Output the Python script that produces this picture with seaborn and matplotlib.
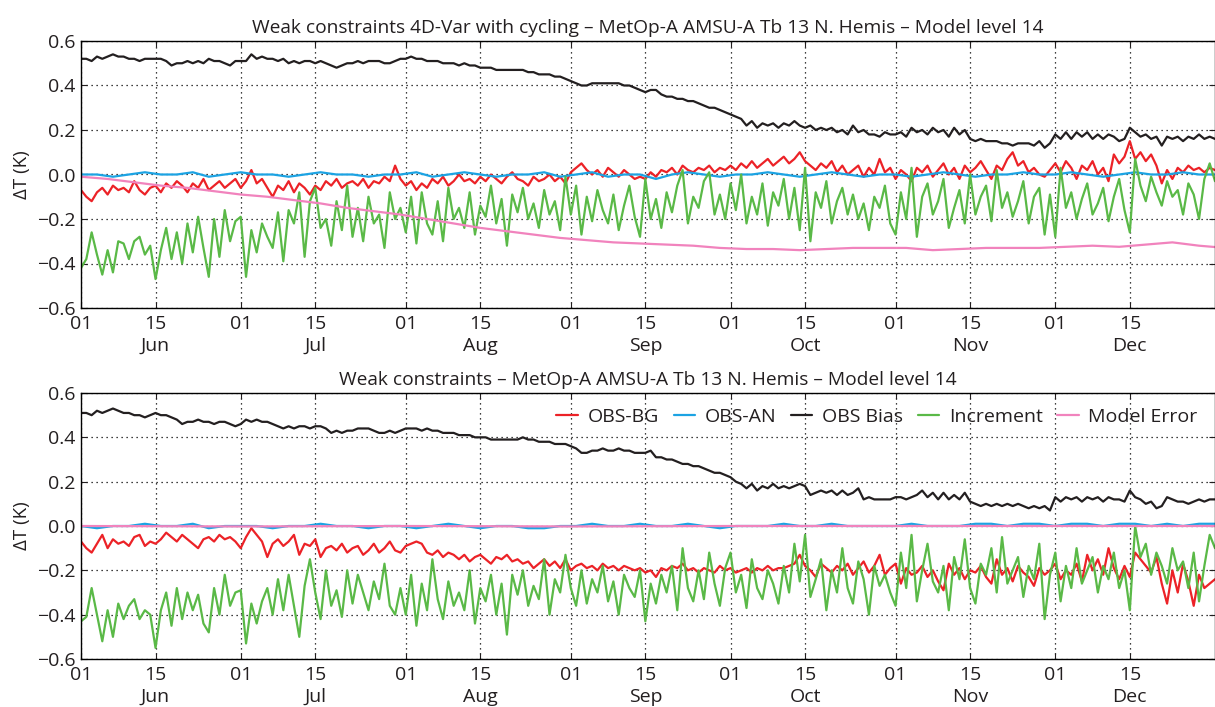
import numpy as np
import pandas as pd
import matplotlib
matplotlib.use("Agg")
import matplotlib.pyplot as plt
import matplotlib.dates as mdates
import seaborn as sns

# ---------------- data ----------------
START = "2009-06-01"
days = pd.date_range(START, periods=214, freq="D")        # daily, Jun 1 .. Dec 31
days3 = pd.date_range(START, periods=72, freq="3D")       # every 3 days
days5 = pd.date_range(START, periods=44, freq="5D")       # every 5 days
months = pd.date_range(START, periods=8, freq="MS")       # monthly

# ---- top panel: weak constraints 4D-Var with cycling ----
bias_top = [
    0.52,0.52,0.51,0.53,0.52,0.53,0.54,0.53,0.53,0.52,0.52,0.51,0.52,0.52,0.52,0.52,0.51,0.49,0.50,0.50,0.51,0.50,0.51,0.50,0.52,0.51,0.51,0.50,0.49,0.51,
    0.51,0.51,0.54,0.52,0.53,0.52,0.52,0.51,0.52,0.50,0.51,0.50,0.51,0.51,0.50,0.51,0.50,0.49,0.48,0.49,0.50,0.50,0.51,0.50,0.51,0.51,0.51,0.50,0.50,0.51,0.52,
    0.52,0.53,0.52,0.52,0.51,0.51,0.51,0.50,0.50,0.50,0.49,0.50,0.49,0.49,0.48,0.48,0.48,0.47,0.47,0.47,0.47,0.47,0.47,0.46,0.46,0.45,0.45,0.45,0.44,0.44,0.43,
    0.42,0.41,0.40,0.40,0.41,0.41,0.41,0.41,0.41,0.41,0.40,0.40,0.39,0.38,0.37,0.38,0.38,0.36,0.35,0.35,0.34,0.34,0.33,0.33,0.32,0.31,0.30,0.30,0.29,0.28,
    0.27,0.26,0.25,0.22,0.24,0.21,0.23,0.22,0.23,0.21,0.23,0.22,0.24,0.22,0.21,0.22,0.20,0.21,0.20,0.21,0.19,0.20,0.18,0.22,0.19,0.20,0.18,0.18,0.17,0.19,0.18,
    0.18,0.19,0.17,0.21,0.19,0.20,0.18,0.21,0.19,0.20,0.17,0.21,0.18,0.20,0.16,0.15,0.16,0.15,0.15,0.15,0.14,0.14,0.13,0.14,0.14,0.14,0.13,0.15,0.12,0.14,
    0.18,0.16,0.19,0.16,0.19,0.17,0.19,0.16,0.18,0.16,0.18,0.17,0.15,0.16,0.21,0.19,0.17,0.18,0.16,0.17,0.13,0.17,0.16,0.17,0.15,0.17,0.16,0.18,0.16,0.17,0.16,
]
obs_bg_top = [
    -0.07,-0.10,-0.12,-0.08,-0.06,-0.09,-0.05,-0.07,-0.06,-0.08,-0.03,-0.07,-0.09,-0.06,-0.05,-0.08,-0.04,-0.06,-0.03,-0.05,-0.08,-0.04,-0.06,-0.02,-0.07,-0.05,-0.03,-0.06,-0.04,-0.02,
    -0.06,-0.03,0.02,-0.04,-0.02,-0.06,-0.10,-0.05,-0.07,-0.03,-0.08,-0.04,-0.06,-0.09,-0.05,-0.07,-0.03,-0.05,-0.02,-0.06,-0.04,-0.03,-0.05,-0.02,-0.06,-0.03,-0.04,-0.01,-0.03,0.04,-0.02,
    -0.05,-0.03,-0.07,-0.04,-0.06,-0.02,-0.04,-0.01,-0.05,-0.03,0.00,-0.03,-0.02,-0.04,-0.01,-0.03,0.00,-0.02,-0.04,-0.01,0.01,-0.02,-0.03,-0.05,-0.01,-0.03,-0.02,0.00,-0.03,-0.01,-0.04,
    0.01,0.03,0.05,0.02,0.00,0.02,-0.01,0.03,0.01,-0.01,0.02,0.00,-0.02,-0.01,-0.02,0.01,-0.01,0.02,0.01,0.03,0.00,0.04,0.02,0.01,0.03,0.02,0.04,0.01,0.03,0.02,
    0.04,0.02,0.05,0.03,0.06,0.03,0.05,0.07,0.04,0.06,0.08,0.05,0.07,0.10,0.06,0.04,0.02,0.05,0.03,0.06,0.01,0.04,0.00,0.02,0.04,-0.01,0.03,0.00,0.07,0.01,0.03,
    -0.02,0.02,0.00,-0.03,0.03,0.01,0.04,-0.01,0.02,0.05,0.00,0.03,-0.02,0.04,0.01,0.03,0.06,0.02,-0.02,0.04,0.02,0.07,0.10,0.04,0.06,0.01,0.03,0.00,-0.01,0.02,
    0.05,0.01,0.06,0.03,-0.02,0.04,0.02,0.06,0.00,0.03,-0.03,0.09,0.05,0.08,0.15,0.07,0.10,0.06,0.09,0.04,-0.04,0.02,-0.02,0.03,0.01,0.04,0.02,0.03,0.01,0.03,0.02,
]
incr_top = [
    -0.42,-0.38,-0.26,-0.36,-0.45,-0.34,-0.44,-0.30,-0.31,-0.38,-0.30,-0.28,-0.36,-0.32,-0.47,-0.34,-0.24,-0.38,-0.26,-0.40,-0.22,-0.35,-0.19,-0.33,-0.46,-0.20,-0.37,-0.16,-0.30,-0.21,
    -0.19,-0.46,-0.25,-0.35,-0.22,-0.28,-0.33,-0.17,-0.39,-0.16,-0.22,-0.08,-0.37,-0.12,-0.06,-0.24,-0.20,-0.32,-0.12,-0.25,-0.05,-0.28,-0.15,-0.30,-0.10,-0.22,-0.18,-0.33,-0.08,-0.20,-0.15,
    -0.26,-0.10,-0.31,-0.08,-0.22,-0.27,-0.12,-0.30,-0.06,-0.20,-0.15,-0.24,-0.08,-0.27,-0.14,-0.19,-0.05,-0.22,-0.11,-0.32,-0.09,-0.17,-0.06,-0.20,-0.13,-0.24,-0.07,-0.18,-0.12,-0.25,-0.01,
    -0.18,-0.05,-0.27,-0.10,-0.21,-0.07,-0.16,-0.22,-0.09,-0.25,-0.14,-0.05,-0.19,-0.28,-0.02,-0.20,-0.11,-0.24,-0.08,-0.17,-0.05,0.02,-0.22,-0.10,-0.15,-0.03,0.01,-0.18,-0.09,-0.20,
    -0.04,-0.16,0.00,-0.22,-0.10,-0.18,-0.04,-0.23,-0.08,-0.14,-0.02,-0.20,-0.06,-0.25,0.03,-0.30,-0.08,-0.15,-0.03,-0.22,-0.12,-0.06,-0.18,-0.09,-0.20,-0.13,-0.25,-0.10,-0.15,-0.05,-0.22,
    -0.27,-0.08,-0.20,0.03,-0.28,-0.10,-0.04,-0.18,-0.12,-0.02,-0.24,-0.15,-0.07,-0.22,0.00,-0.18,-0.10,-0.05,-0.21,0.02,-0.15,-0.08,-0.19,-0.12,-0.03,-0.22,-0.10,-0.06,-0.27,-0.09,
    -0.28,0.03,-0.15,-0.08,-0.20,-0.11,-0.04,-0.18,-0.13,-0.06,-0.21,-0.10,-0.02,-0.16,-0.26,0.07,-0.05,-0.12,-0.01,-0.08,-0.14,-0.03,-0.10,-0.07,-0.18,-0.04,-0.09,-0.20,-0.02,0.05,-0.03,
]
obs_an_top = [
    0.00,0.00,-0.01,0.00,0.01,0.00,0.00,0.01,-0.01,0.00,0.01,0.00,0.00,-0.01,0.00,0.01,0.00,0.00,-0.01,0.00,0.00,0.01,-0.01,0.00,
    0.01,0.00,-0.01,0.00,0.00,0.01,-0.01,0.00,0.01,-0.01,0.00,0.00,-0.02,0.00,0.01,0.00,-0.01,0.00,0.00,0.01,0.00,-0.01,0.00,0.01,
    0.00,-0.01,0.00,0.00,-0.01,0.00,0.01,0.00,-0.01,0.00,0.00,0.01,0.00,0.00,0.01,0.00,-0.01,0.00,0.01,0.00,0.00,0.01,0.00,0.00,
]
model_err_top = [
    -0.010,-0.020,-0.035,-0.050,-0.060,-0.075,-0.090,-0.100,-0.115,-0.130,-0.150,-0.165,-0.180,-0.200,-0.220,
    -0.240,-0.255,-0.270,-0.285,-0.295,-0.305,-0.310,-0.315,-0.320,-0.330,-0.335,-0.335,-0.340,-0.335,-0.330,
    -0.330,-0.330,-0.340,-0.335,-0.330,-0.330,-0.330,-0.325,-0.320,-0.325,-0.315,-0.305,-0.320,-0.330,
]

# ---- bottom panel: weak constraints ----
bias_bot = [
    0.51,0.51,0.50,0.52,0.51,0.52,0.53,0.52,0.51,0.51,0.50,0.50,0.49,0.50,0.51,0.50,0.50,0.49,0.48,0.46,0.47,0.47,0.48,0.47,0.47,0.46,0.47,0.47,0.46,0.45,
    0.46,0.48,0.47,0.48,0.47,0.47,0.46,0.45,0.44,0.45,0.44,0.45,0.45,0.44,0.45,0.45,0.44,0.42,0.43,0.42,0.43,0.43,0.44,0.44,0.44,0.43,0.42,0.42,0.43,0.42,0.43,
    0.44,0.44,0.44,0.43,0.44,0.43,0.43,0.42,0.42,0.42,0.41,0.41,0.41,0.40,0.40,0.40,0.39,0.39,0.39,0.39,0.39,0.39,0.40,0.39,0.39,0.38,0.38,0.38,0.37,0.37,0.37,
    0.36,0.35,0.33,0.33,0.34,0.34,0.35,0.34,0.34,0.35,0.34,0.34,0.33,0.33,0.33,0.34,0.31,0.31,0.30,0.30,0.29,0.28,0.28,0.27,0.27,0.26,0.25,0.24,0.24,0.23,
    0.22,0.20,0.19,0.17,0.19,0.16,0.18,0.17,0.19,0.17,0.18,0.17,0.18,0.19,0.18,0.14,0.15,0.16,0.15,0.16,0.14,0.16,0.14,0.15,0.17,0.12,0.13,0.12,0.12,0.12,0.12,
    0.13,0.13,0.12,0.13,0.14,0.16,0.13,0.15,0.12,0.15,0.12,0.14,0.12,0.15,0.11,0.10,0.09,0.10,0.09,0.10,0.09,0.10,0.09,0.10,0.09,0.08,0.09,0.08,0.09,0.07,
    0.13,0.11,0.13,0.12,0.13,0.11,0.13,0.12,0.13,0.11,0.13,0.12,0.12,0.11,0.16,0.13,0.12,0.10,0.11,0.08,0.09,0.13,0.12,0.11,0.11,0.10,0.11,0.12,0.11,0.12,0.12,
]
obs_bg_bot = [
    -0.07,-0.10,-0.12,-0.08,-0.04,-0.10,-0.06,-0.08,-0.07,-0.09,-0.05,-0.04,-0.09,-0.07,-0.08,-0.06,-0.03,-0.05,-0.07,-0.04,-0.06,-0.08,-0.10,-0.06,-0.05,-0.07,-0.04,-0.06,-0.05,-0.07,
    -0.10,-0.05,-0.01,-0.04,-0.07,-0.14,-0.08,-0.06,-0.09,-0.07,-0.04,-0.13,-0.08,-0.09,-0.06,-0.14,-0.10,-0.09,-0.11,-0.08,-0.12,-0.10,-0.09,-0.13,-0.11,-0.08,-0.12,-0.10,-0.07,-0.11,-0.12,
    -0.09,-0.08,-0.07,-0.08,-0.12,-0.13,-0.11,-0.14,-0.12,-0.13,-0.15,-0.13,-0.16,-0.14,-0.13,-0.15,-0.17,-0.14,-0.15,-0.13,-0.16,-0.15,-0.17,-0.16,-0.19,-0.17,-0.15,-0.18,-0.16,-0.19,-0.15,
    -0.20,-0.18,-0.17,-0.19,-0.18,-0.20,-0.17,-0.19,-0.18,-0.20,-0.18,-0.19,-0.20,-0.19,-0.21,-0.20,-0.23,-0.19,-0.20,-0.18,-0.19,-0.17,-0.20,-0.19,-0.21,-0.19,-0.20,-0.21,-0.18,-0.20,
    -0.19,-0.21,-0.20,-0.19,-0.21,-0.19,-0.20,-0.18,-0.20,-0.19,-0.19,-0.18,-0.17,-0.13,-0.18,-0.20,-0.23,-0.17,-0.19,-0.21,-0.18,-0.20,-0.17,-0.22,-0.19,-0.16,-0.21,-0.18,-0.13,-0.22,-0.19,
    -0.17,-0.26,-0.19,-0.22,-0.21,-0.18,-0.23,-0.20,-0.25,-0.29,-0.17,-0.22,-0.19,-0.24,-0.20,-0.21,-0.18,-0.23,-0.26,-0.15,-0.22,-0.19,-0.25,-0.18,-0.21,-0.23,-0.27,-0.19,-0.22,-0.20,
    -0.17,-0.24,-0.20,-0.22,-0.17,-0.25,-0.13,-0.20,-0.15,-0.22,-0.10,-0.19,-0.24,-0.18,-0.23,-0.12,-0.15,-0.18,-0.21,-0.14,-0.26,-0.35,-0.20,-0.30,-0.17,-0.25,-0.36,-0.22,-0.28,-0.26,-0.24,
]
incr_bot = [
    -0.43,-0.41,-0.28,-0.40,-0.52,-0.38,-0.50,-0.35,-0.42,-0.36,-0.33,-0.42,-0.38,-0.40,-0.55,-0.38,-0.30,-0.45,-0.28,-0.42,-0.30,-0.38,-0.31,-0.44,-0.48,-0.28,-0.40,-0.22,-0.36,-0.30,
    -0.29,-0.53,-0.35,-0.44,-0.34,-0.28,-0.40,-0.24,-0.38,-0.22,-0.36,-0.50,-0.27,-0.15,-0.30,-0.42,-0.20,-0.36,-0.29,-0.41,-0.20,-0.35,-0.22,-0.30,-0.38,-0.25,-0.33,-0.17,-0.36,-0.40,-0.28,
    -0.40,-0.22,-0.45,-0.26,-0.38,-0.15,-0.33,-0.42,-0.25,-0.36,-0.30,-0.38,-0.20,-0.44,-0.28,-0.34,-0.22,-0.40,-0.26,-0.49,-0.22,-0.31,-0.20,-0.36,-0.27,-0.33,-0.15,-0.40,-0.24,-0.30,-0.13,
    -0.28,-0.36,-0.20,-0.35,-0.24,-0.30,-0.18,-0.34,-0.25,-0.40,-0.22,-0.28,-0.32,-0.20,-0.43,-0.26,-0.35,-0.22,-0.30,-0.18,-0.38,-0.10,-0.28,-0.34,-0.20,-0.33,-0.12,-0.26,-0.36,-0.19,
    -0.12,-0.30,-0.22,-0.37,-0.15,-0.28,-0.33,-0.20,-0.26,-0.35,-0.18,-0.30,-0.08,-0.25,-0.04,-0.32,-0.24,-0.15,-0.38,-0.20,-0.30,-0.10,-0.28,-0.35,-0.16,-0.24,-0.40,-0.18,-0.27,-0.22,-0.30,
    -0.36,-0.12,-0.28,-0.04,-0.34,-0.20,-0.08,-0.25,-0.30,-0.18,-0.38,-0.14,-0.24,-0.06,-0.28,-0.35,-0.17,-0.22,-0.10,-0.30,-0.05,-0.26,-0.20,-0.14,-0.32,-0.18,-0.24,-0.08,-0.42,-0.22,
    -0.12,-0.34,-0.18,-0.28,-0.10,-0.26,-0.20,-0.14,-0.30,-0.18,-0.24,-0.12,-0.28,-0.20,-0.38,0.00,-0.14,-0.08,-0.22,-0.12,-0.18,-0.26,-0.10,-0.20,-0.16,-0.28,-0.12,-0.34,-0.18,-0.04,-0.10,
]
obs_an_bot = [
    0.00,-0.01,0.00,0.00,0.01,0.00,0.00,0.01,-0.01,0.00,0.00,0.00,-0.01,0.00,0.00,0.01,0.00,0.00,-0.01,0.00,0.00,-0.01,0.00,0.01,
    0.00,-0.01,0.00,0.00,-0.01,-0.01,0.00,0.00,0.01,0.00,0.00,0.01,0.00,0.00,0.01,0.00,-0.01,0.00,0.00,0.00,0.01,0.00,0.00,0.01,
    0.00,0.00,0.00,0.00,0.01,0.00,0.00,0.00,0.01,0.01,0.00,0.01,0.01,0.00,0.01,0.01,0.00,0.01,0.01,0.00,0.01,0.00,0.01,0.01,
]
model_err_bot = [0.000, -0.002, 0.000, -0.002, 0.000, 0.000, 0.000, 0.000]

series_names = ["OBS-BG", "OBS-AN", "OBS Bias", "Increment", "Model Error"]
colors = {"OBS-BG": "#ec2227", "OBS-AN": "#1ca3e3", "OBS Bias": "#231f20",
          "Increment": "#5ab947", "Model Error": "#f183bd"}

titles = ["Weak constraints 4D-Var with cycling \u2013 MetOp-A AMSU-A Tb 13 N. Hemis \u2013 Model level 14",
          "Weak constraints \u2013 MetOp-A AMSU-A Tb 13 N. Hemis \u2013 Model level 14"]

panels = [
    {"OBS-BG": (days, obs_bg_top), "OBS-AN": (days3, obs_an_top), "OBS Bias": (days, bias_top),
     "Increment": (days, incr_top), "Model Error": (days5, model_err_top)},
    {"OBS-BG": (days, obs_bg_bot), "OBS-AN": (days3, obs_an_bot), "OBS Bias": (days, bias_bot),
     "Increment": (days, incr_bot), "Model Error": (months, model_err_bot)},
]

# ---------------- plotting ----------------
sns.set_style("ticks")
FONT = ["Open Sans", "DejaVu Sans"]
plt.rcParams["font.family"] = FONT
plt.rcParams["axes.unicode_minus"] = True
TXT = "#231f20"

fig = plt.figure(figsize=(12.15, 7.07), dpi=100)
ax_top = fig.add_axes([81/1215, 1-308/707, 1-81/1215, (308-41)/707])
ax_bot = fig.add_axes([81/1215, 1-659/707, 1-81/1215, (659-393)/707])

tick_dates = []
tick_labels = []
for m in pd.date_range(START, periods=7, freq="MS"):
    tick_dates += [m, m + pd.Timedelta(days=14)]
    tick_labels += ["01", "15\n" + m.strftime("%b")]

for ax, panel, title in zip([ax_top, ax_bot], panels, titles):
    for name in series_names:
        x, y = panel[name]
        df = pd.DataFrame({"date": x, "value": y})
        sns.lineplot(data=df, x="date", y="value", ax=ax, color=colors[name],
                     lw=1.6, label=name, legend=False)
    ax.set_xlim(pd.Timestamp(START), pd.Timestamp("2009-12-31"))
    ax.set_ylim(-0.6, 0.6)
    ax.set_yticks(np.arange(-0.6, 0.61, 0.2))
    ax.set_yticklabels([f"{v:.1f}".replace("-", "\u2212") for v in np.arange(-0.6, 0.61, 0.2)])
    ax.set_xticks(tick_dates)
    ax.set_xticklabels(tick_labels, linespacing=1.3)
    ax.grid(True, color="black", linestyle=(0, (1, 3)), linewidth=0.9)
    ax.tick_params(direction="in", length=4, width=0.8, top=True, right=True,
                   labelsize=14, colors=TXT)
    ax.tick_params(axis="y", pad=4)
    ax.tick_params(axis="x", pad=5)
    for s in ax.spines.values():
        s.set_color("black")
        s.set_linewidth(1.0)
    ax.set_xlabel("")
    ax.set_ylabel("\u0394T (K)", fontsize=13.5, color=TXT, labelpad=4)
    ax.set_title(title, fontsize=13.8, color=TXT, pad=6)

leg = ax_bot.legend(loc="upper right", ncol=5, frameon=False, fontsize=14,
                    handlelength=1.1, columnspacing=0.75, handletextpad=0.5,
                    bbox_to_anchor=(1.0, 1.01))
for t in leg.get_texts():
    t.set_color(TXT)

fig.savefig("out.png", dpi=100)
